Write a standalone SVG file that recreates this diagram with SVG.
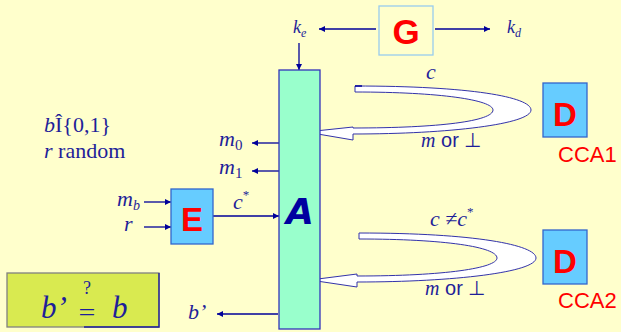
<svg xmlns="http://www.w3.org/2000/svg" width="621" height="332" viewBox="0 0 621 332">
<defs>
<marker id="ah" viewBox="0 0 10 10" refX="10" refY="5" markerWidth="8" markerHeight="6" markerUnits="userSpaceOnUse" orient="auto">
<path d="M0,0 L10,5 L0,10 Z" fill="#00009A"/>
</marker>
<style>
.ln{stroke:#00009A;stroke-width:1.3;fill:none;marker-end:url(#ah)}
.t{font-family:"Liberation Serif",serif;fill:#1E1E99}
.it{font-style:italic}
.s{font-family:"Liberation Sans",sans-serif;fill:#1E1E99}
.box{fill:#66CCFF;stroke:#3366CC;stroke-width:1.3}
.big{font-family:"Liberation Sans",sans-serif;font-weight:bold;fill:#FF0000}
.red{font-family:"Liberation Sans",sans-serif;fill:#FF0000}
.ua{fill:#FFFFFF;stroke:#3333AA;stroke-width:1}
</style>
</defs>
<rect x="0" y="0" width="621" height="332" fill="#FFFFCC"/>

<g id="connectors">
<line class="ln" x1="376" y1="29" x2="319" y2="29"/>
<line class="ln" x1="435" y1="29" x2="490" y2="29"/>
<line class="ln" x1="299" y1="43" x2="299" y2="70"/>
<line class="ln" x1="279" y1="143" x2="252" y2="143"/>
<line class="ln" x1="279" y1="171" x2="252" y2="171"/>
<line class="ln" x1="144" y1="202" x2="171" y2="202"/>
<line class="ln" x1="144" y1="227" x2="171" y2="227"/>
<line class="ln" x1="213" y1="216" x2="279" y2="216"/>
<line class="ln" x1="278" y1="314" x2="217" y2="314"/>
<path class="ua" d="M355,86 C470,86 531,97 531,110 C531,124 450,134 353,134 L353,140 L306,132 L353,127 L353,128 C440,128 493,121 493,110 C493,100 440,92 355,92 Z"/>
<line x1="355" y1="86" x2="362" y2="86" stroke="#00009A" stroke-width="1.5"/>
<path class="ua" d="M359,233 C475,233 536,245 536,258 C536,272 455,282 357,282 L357,287 L310,280 L357,274 L357,276 C445,276 497,268 497,258 C497,247 445,239 359,239 Z"/>
</g>

<g id="G">
<rect x="379" y="6" width="54" height="49" fill="#FFFFCC" stroke="#99CCEE" stroke-width="1.3"/>
<text class="big" x="406" y="44" font-size="35" text-anchor="middle">G</text>
</g>
<g id="ke"><text class="t it" x="293" y="33" font-size="18">k<tspan font-size="12" dy="4">e</tspan></text></g>
<g id="kd"><text class="t it" x="507" y="33" font-size="18">k<tspan font-size="12" dy="4">d</tspan></text></g>

<g id="A">
<rect x="279" y="70" width="41" height="259" fill="#99FFCC" stroke="#3333BB" stroke-width="1.3"/>
<text x="300" y="224" font-size="36" font-family="'DejaVu Sans',sans-serif" font-weight="bold" font-style="oblique" fill="#0000A0" text-anchor="middle">A</text>
</g>

<g id="E">
<rect class="box" x="171" y="189" width="42" height="55"/>
<text class="big" x="192" y="231" font-size="33" text-anchor="middle">E</text>
</g>

<g id="D1">
<rect class="box" x="543" y="83" width="44" height="54"/>
<text class="big" x="565" y="126" font-size="33" text-anchor="middle">D</text>
<text class="red" x="558" y="162" font-size="22">CCA1</text>
</g>
<g id="D2">
<rect class="box" x="543" y="230" width="44" height="54"/>
<text class="big" x="565" y="273" font-size="33" text-anchor="middle">D</text>
<text class="red" x="558" y="308" font-size="22">CCA2</text>
</g>

<g id="labels">
<text class="t" x="44" y="132" font-size="22"><tspan class="it">b</tspan>Î{0,1}</text>
<text class="t" x="44" y="158" font-size="22"><tspan class="it">r</tspan> random</text>
<text class="t it" x="219" y="146" font-size="22">m<tspan font-size="15" font-style="normal" dy="4">0</tspan></text>
<text class="t it" x="219" y="174" font-size="22">m<tspan font-size="15" font-style="normal" dy="4">1</tspan></text>
<text class="t it" x="117" y="206" font-size="22">m<tspan font-size="14" dy="4">b</tspan></text>
<text class="t it" x="124" y="231" font-size="22">r</text>
<text class="t it" x="233" y="209" font-size="22">c<tspan font-size="13" font-style="normal" dy="-10">*</tspan></text>
<text class="t it" x="426" y="79" font-size="22">c</text>
<text class="t" x="421" y="147" font-size="20"><tspan class="it">m</tspan><tspan font-family="'Liberation Sans',sans-serif"> or ⊥</tspan></text>
<text class="t it" x="430" y="226" font-size="22">c ≠c<tspan font-size="13" font-style="normal" dy="-10">*</tspan></text>
<text class="t" x="425" y="295" font-size="20"><tspan class="it">m</tspan><tspan font-family="'Liberation Sans',sans-serif"> or ⊥</tspan></text>
<text class="t it" x="188" y="319" font-size="22">b’</text>
</g>

<g id="check">
<rect x="7" y="273" width="152" height="54" fill="#D9EA50" stroke="#808080" stroke-width="1.3"/>
<polyline points="84,327 159,327 159,273" fill="none" stroke="#1E1E99" stroke-width="1.3"/>
<text class="t it" x="41" y="318" font-size="31">b’</text>
<text class="t" x="87" y="321" font-size="25" text-anchor="middle" transform="translate(87,0) scale(1.2,1) translate(-87,0)">=</text>
<text class="t" x="87" y="294" font-size="18" text-anchor="middle">?</text>
<text class="t it" x="112" y="318" font-size="31">b</text>
</g>
</svg>
